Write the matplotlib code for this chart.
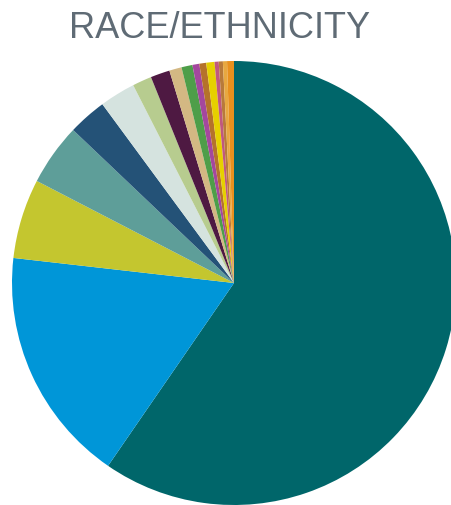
import matplotlib
matplotlib.use("Agg")
import matplotlib.pyplot as plt

categories = ["Group 1", "Group 2", "Group 3", "Group 4", "Group 5", "Group 6",
              "Group 7", "Group 8", "Group 9", "Group 10", "Group 11", "Group 12",
              "Group 13", "Group 14", "Group 15", "Group 16", "Group 17"]
values = [59.6, 17.2, 5.8, 4.5, 2.8, 2.6, 1.4, 1.4, 0.9, 0.8, 0.5, 0.5, 0.6,
          0.3, 0.3, 0.3, 0.5]
colors = ["#00666a", "#0096d8", "#c4c62f", "#5e9e99", "#245277", "#d5e3df",
          "#b7cc8f", "#4e1942", "#d3b883", "#4e9e49", "#a4479e", "#b5722b",
          "#e6d000", "#c0587e", "#b87a3a", "#e8a840", "#e8901e"]
title = "RACE/ETHNICITY"

fig = plt.figure(figsize=(4.52, 5.06), dpi=100)
ax = fig.add_axes([12 / 452, 0.0, 444 / 452, 444 / 506])
ax.pie(values, colors=colors, startangle=90, counterclock=False, radius=1,
       wedgeprops=dict(linewidth=0))
ax.set_xlim(-1, 1)
ax.set_ylim(-1, 1)
ax.set_aspect("equal")
ax.axis("off")
fig.text(220 / 452, 1 - 28 / 506, title, ha="center", va="center",
         fontsize=26, color="#5f6b75", family="Liberation Sans")
fig.savefig("out.png", dpi=100)
